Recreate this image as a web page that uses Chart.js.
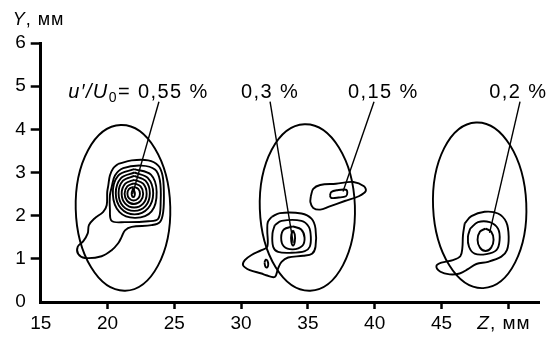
<!DOCTYPE html>
<html>
<head>
<meta charset="utf-8">
<script src="https://cdn.jsdelivr.net/npm/chart.js@4.4.1/dist/chart.umd.min.js"></script>
<style>
  html, body { margin: 0; padding: 0; background: #fff; }
  canvas { display: block; }
</style>
</head>
<body>
<canvas id="c" width="549" height="340"></canvas>
<script>
const FONT = '"Liberation Sans", Arial, Helvetica, sans-serif';
const INK = '#000';

// axes
const zTicks = [15, 20, 25, 30, 35, 40, 45, 50];
const zTickLabels = ['15', '20', '25', '30', '35', '40', '45', ''];
const yTicks = [0, 1, 2, 3, 4, 5, 6];
const yTickLabels = ['0', '1', '2', '3', '4', '5', '6'];

// jet cross-section outlines: centre (Z, Y), half-axes, tilt in degrees
const ovalZ = [21.16, 34.96, 47.86];
const ovalY = [2.18, 2.19, 2.24];
const ovalHalfZ = [3.54, 3.56, 3.49];
const ovalHalfY = [1.92, 1.93, 1.92];
const ovalTilt = [-1.5, -2, -2.5];

// isolines of u'/U0, section at Z ≈ 21 mm
const isoA1 = [[20.80,3.20],[21.81,3.28],[23.05,3.28],[23.80,3.16],[24.12,2.93],[24.22,2.55],[24.17,2.09],[23.92,1.85],[23.30,1.78],[21.81,1.74],[21.31,1.66],[21.06,1.51],[20.80,1.36],[20.31,1.20],[19.56,1.06],[18.31,1.02],[17.81,1.11],[17.77,1.28],[18.19,1.41],[18.52,1.59],[18.61,1.78],[19.01,1.93],[19.68,2.09],[19.94,2.24],[19.98,2.55],[20.06,2.70],[20.18,2.93],[20.43,3.10]];
const isoA2 = [[20.31,2.66],[20.56,2.93],[21.18,3.10],[22.55,3.16],[23.55,3.07],[23.92,2.82],[23.98,2.32],[23.80,1.93],[23.05,1.87],[21.31,1.85],[20.31,1.88],[20.18,2.16],[20.18,2.47]];
const isoA3 = [[22.0,3.08],[23.25,2.95],[23.68,2.55],[23.3,2.10],[22.1,1.95],[20.9,2.08],[20.40,2.50],[20.8,2.93]];
const isoA4 = [[22.02,3.00],[23.03,2.87],[23.42,2.52],[23.03,2.17],[22.02,2.03],[21.01,2.17],[20.62,2.52],[21.01,2.87]];
const isoA5 = [[22.00,2.92],[22.84,2.81],[23.17,2.52],[22.84,2.22],[22.00,2.11],[21.16,2.22],[20.83,2.52],[21.16,2.81]];
const isoA6 = [[22.0,2.83],[22.67,2.74],[22.93,2.51],[22.67,2.28],[22.0,2.19],[21.33,2.28],[21.06,2.51],[21.33,2.74]];
const isoA7 = [[21.98,2.75],[22.48,2.68],[22.67,2.51],[22.48,2.34],[21.98,2.27],[21.48,2.34],[21.28,2.51],[21.48,2.68]];
const isoA8 = [[21.96,2.67],[22.30,2.62],[22.43,2.51],[22.30,2.40],[21.96,2.35],[21.62,2.40],[21.49,2.51],[21.62,2.62]];
const isoA9 = [[21.93,2.64],[22.05,2.52],[22.0,2.44],[21.86,2.44],[21.81,2.52]];

// section at Z ≈ 35 mm
const isoB1 = [[32.28,1.97],[32.90,2.06],[34.52,2.05],[35.27,1.93],[35.57,1.70],[35.57,1.28],[35.31,1.12],[34.64,1.07],[33.52,1.03],[33.03,0.93],[32.77,0.78],[32.52,0.58],[31.87,0.62],[31.53,0.66],[30.65,0.74],[30.15,0.85],[30.28,0.97],[30.78,1.09],[31.53,1.20],[31.96,1.28],[31.96,1.66],[32.00,1.85]];
const isoB2 = [[32.52,1.78],[33.03,1.88],[34.52,1.88],[35.07,1.74],[35.22,1.51],[35.14,1.28],[34.77,1.18],[33.77,1.14],[32.77,1.16],[32.40,1.28],[32.35,1.59]];
const isoB3 = [[33.87,1.75],[34.5,1.68],[34.75,1.49],[34.58,1.30],[33.87,1.22],[33.2,1.29],[33.0,1.49],[33.2,1.68]];
const isoB4 = [[33.89,1.66],[34.02,1.56],[34.02,1.40],[33.89,1.31],[33.76,1.40],[33.76,1.56]];
const isoB5 = [[31.75,0.92],[31.85,0.98],[31.98,0.95],[32.03,0.86],[31.95,0.80],[31.82,0.82]];
const isoC1 = [[35.22,2.45],[35.40,2.62],[35.92,2.71],[37.10,2.74],[38.41,2.78],[39.20,2.68],[39.33,2.57],[38.81,2.45],[37.76,2.34],[36.58,2.21],[35.92,2.14],[35.40,2.18],[35.19,2.31]];
const isoC2 = [[36.65,2.46],[36.75,2.55],[37.2,2.59],[37.85,2.60],[37.95,2.53],[37.85,2.45],[37.3,2.42],[36.75,2.41]];

// section at Z ≈ 48 mm
const isoD1 = [[46.74,1.82],[47.24,1.99],[48.23,2.09],[49.23,2.05],[49.85,1.85],[50.03,1.51],[49.90,1.20],[49.48,1.05],[48.48,0.93],[47.61,0.88],[46.98,0.76],[46.36,0.66],[45.61,0.64],[44.92,0.70],[44.62,0.83],[44.99,0.91],[45.86,0.97],[46.41,1.06],[46.56,1.24],[46.61,1.55]];
const isoD2 = [[47.15,1.70],[47.73,1.85],[48.61,1.85],[49.23,1.70],[49.35,1.43],[49.11,1.20],[48.36,1.11],[47.48,1.12],[47.06,1.28],[46.98,1.51]];
const isoD3 = [[48.3,1.70],[48.72,1.63],[48.9,1.44],[48.72,1.26],[48.3,1.18],[47.88,1.26],[47.7,1.44],[47.88,1.63]];

const isolines = [isoA1, isoA2, isoA3, isoA4, isoA5, isoA6, isoA7, isoA8, isoA9,
                  isoB1, isoB2, isoB3, isoB4, isoB5, isoC1, isoC2,
                  isoD1, isoD2, isoD3];

// level labels and their leader lines
const levelText = ['= 0,55 %', '0,3 %', '0,15 %', '0,2 %'];
const levelZ = [17.06, 29.99, 38.0, 48.57];
const levelY = [4.73, 4.73, 4.73, 4.73];
const leaderFrom = [[23.85, 4.64], [32.17, 4.64], [39.95, 4.64], [50.88, 4.64]];
const leaderTo = [[21.88, 2.50], [33.90, 1.37], [37.63, 2.56], [48.60, 1.60]];

const toPts = arr => arr.map(p => ({ x: p[0], y: p[1] }));
const closed = arr => toPts(arr.concat([arr[0]]));

const datasets = [];
isolines.forEach(line => datasets.push({
  data: closed(line), showLine: true, tension: 0.35,
  borderColor: INK, borderWidth: 1.9, pointRadius: 0, fill: false
}));
leaderFrom.forEach((a, i) => datasets.push({
  data: toPts([a, leaderTo[i]]), showLine: true, tension: 0,
  borderColor: INK, borderWidth: 1.4, pointRadius: 0, fill: false
}));

function setSpacing(ctx, px) { if ('letterSpacing' in ctx) ctx.letterSpacing = px + 'px'; }

const overlay = {
  id: 'overlay',
  afterDatasetsDraw(chart) {
    const ctx = chart.ctx, xs = chart.scales.x, ys = chart.scales.y;
    ctx.save();
    // section outlines
    ctx.strokeStyle = INK; ctx.lineWidth = 1.9;
    ovalZ.forEach((z, i) => {
      const cx = xs.getPixelForValue(z), cy = ys.getPixelForValue(ovalY[i]);
      const rx = Math.abs(xs.getPixelForValue(z + ovalHalfZ[i]) - cx);
      const ry = Math.abs(ys.getPixelForValue(ovalY[i] + ovalHalfY[i]) - cy);
      ctx.beginPath();
      ctx.ellipse(cx, cy, rx, ry, ovalTilt[i] * Math.PI / 180, 0, Math.PI * 2);
      ctx.stroke();
    });
    // level labels
    ctx.fillStyle = INK; ctx.textBaseline = 'alphabetic'; ctx.textAlign = 'left';
    setSpacing(ctx, 1.4);
    levelText.forEach((t, i) => {
      let x = xs.getPixelForValue(levelZ[i]);
      const y = ys.getPixelForValue(levelY[i]);
      if (i === 0) {
        ctx.font = 'italic 20px ' + FONT;
        ctx.fillText('u′/U', x, y); x += ctx.measureText('u′/U').width;
        ctx.font = '14px ' + FONT;
        ctx.fillText('0', x, y + 4); x += ctx.measureText('0').width;
      }
      ctx.font = '20px ' + FONT;
      ctx.fillText(t, x, y);
    });
    // axis titles
    const ca = chart.chartArea;
    setSpacing(ctx, 1);
    ctx.font = 'italic 18px ' + FONT;
    ctx.fillText('Y', ca.left - 28, ca.top - 18);
    let w = ctx.measureText('Y').width;
    ctx.font = '18px ' + FONT;
    ctx.fillText(', мм', ca.left - 28 + w, ca.top - 18);
    const zx = xs.getPixelForValue(50) - 31;
    const zy = ca.bottom + 27;
    ctx.font = 'italic 19px ' + FONT;
    ctx.fillText('Z', zx, zy);
    w = ctx.measureText('Z').width;
    ctx.font = '19px ' + FONT;
    ctx.fillText(', мм', zx + w, zy);
    ctx.restore();
  }
};

new Chart(document.getElementById('c'), {
  type: 'scatter',
  data: { datasets },
  options: {
    responsive: false,
    devicePixelRatio: 1,
    animation: false,
    events: [],
    layout: { padding: { top: 43, right: 10, left: 0, bottom: 0 } },
    plugins: { legend: { display: false }, tooltip: { enabled: false } },
    scales: {
      x: {
        type: 'linear', min: 15, max: 52.3,
        afterFit: s => { s.height = 38; },
        afterBuildTicks: s => { s.ticks = zTicks.map(v => ({ value: v })); },
        ticks: {
          autoSkip: false, maxRotation: 0, padding: 3,
          color: INK, font: { family: FONT, size: 19 },
          callback: (v) => zTickLabels[zTicks.indexOf(v)]
        },
        grid: {
          drawOnChartArea: false, tickLength: 7, tickWidth: 2.5,
          tickColor: c => (c.tick && c.tick.value === 15) ? 'rgba(0,0,0,0)' : INK
        },
        border: { color: INK, width: 3 }
      },
      y: {
        type: 'linear', min: 0, max: 6,
        afterFit: s => { s.width = 40.7; },
        afterBuildTicks: s => { s.ticks = yTicks.map(v => ({ value: v })); },
        ticks: {
          autoSkip: false, padding: 5,
          color: INK, font: { family: FONT, size: 19 },
          callback: (v) => yTickLabels[yTicks.indexOf(v)]
        },
        grid: {
          drawOnChartArea: false, tickLength: 10, tickWidth: 2.5,
          tickColor: c => (c.tick && c.tick.value === 0) ? 'rgba(0,0,0,0)' : INK
        },
        border: { color: INK, width: 3 }
      }
    }
  },
  plugins: [overlay]
});
</script>
</body>
</html>
